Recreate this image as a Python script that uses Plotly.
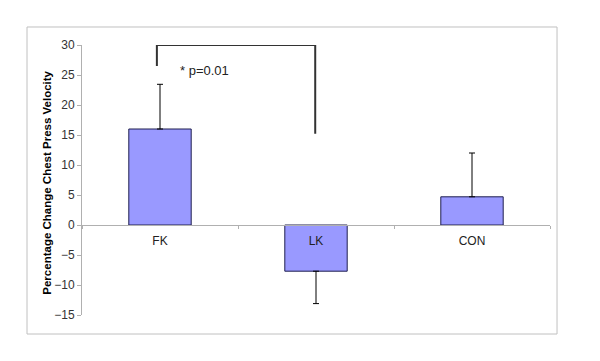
import plotly.graph_objects as go

categories = ["FK", "LK", "CON"]
values = [16.0, -7.7, 4.7]
err_plus = [7.45, 0.0, 7.3]
err_minus = [0.0, 5.4, 0.0]
y_ticks = [-15, -10, -5, 0, 5, 10, 15, 20, 25, 30]

bracket_left_x = -0.02
bracket_right_x = 0.995
bracket_top = 30
bracket_left_bottom = 26.5
bracket_right_bottom = 15.2
sig_label = "* p=0.01"

fig = go.Figure()
fig.add_trace(go.Bar(
    x=categories, y=values, width=0.4,
    marker=dict(color="#9999FF", line=dict(color="#1f1f4f", width=1)),
    error_y=dict(type="data", symmetric=False, array=err_plus, arrayminus=err_minus,
                 color="#000000", thickness=1, width=3),
    showlegend=False,
))

# significance bracket
fig.add_shape(type="path",
              path=f"M {bracket_left_x} {bracket_left_bottom} L {bracket_left_x} {bracket_top} "
                   f"L {bracket_right_x} {bracket_top} L {bracket_right_x} {bracket_right_bottom}",
              xref="x", yref="y", line=dict(color="#333333", width=2))
fig.add_annotation(x=0.115, y=25.7, xref="x", yref="y", text=sig_label, showarrow=False,
                   xanchor="left", yanchor="middle",
                   font=dict(family="Liberation Sans, Arial", size=13, color="#222222"))

# outer border
fig.add_shape(type="rect", xref="paper", yref="paper",
              x0=-0.1175, x1=1.015, y0=-0.0704, y1=1.0667,
              line=dict(color="#c0c0c0", width=1), fillcolor="rgba(0,0,0,0)", layer="below")

fig.add_annotation(x=-0.0748, y=0.49, xref="paper", yref="paper",
                   text="<b>Percentage Change Chest Press Velocity</b>", textangle=-90,
                   showarrow=False, xanchor="center", yanchor="middle",
                   font=dict(family="Liberation Sans, Arial", size=11.5, color="#000000"))

fig.update_layout(
    width=592, height=353,
    margin=dict(l=74, r=50, t=37, b=46, autoexpand=False),
    paper_bgcolor="white", plot_bgcolor="white",
    font=dict(family="Liberation Sans, Arial", size=12, color="#333333"),
    bargap=0.6,
    xaxis=dict(type="category", range=[-0.5, 2.5], anchor="free", position=1/3,
               showline=True, linecolor="#b0b0b0", linewidth=1,
               ticks="outside", ticklen=3, tickcolor="#b0b0b0", tickson="boundaries",
               ticklabelstandoff=5,
               showgrid=False, zeroline=False, tickfont=dict(size=12, color="#222222")),
    yaxis=dict(range=[-15, 30], tickvals=y_ticks, showline=True, linecolor="#b0b0b0",
               linewidth=1, ticks="outside", ticklen=4, tickcolor="#b0b0b0",
               showgrid=False, zeroline=False, tickfont=dict(size=12, color="#333333")),
)

fig.write_html("out.html")
